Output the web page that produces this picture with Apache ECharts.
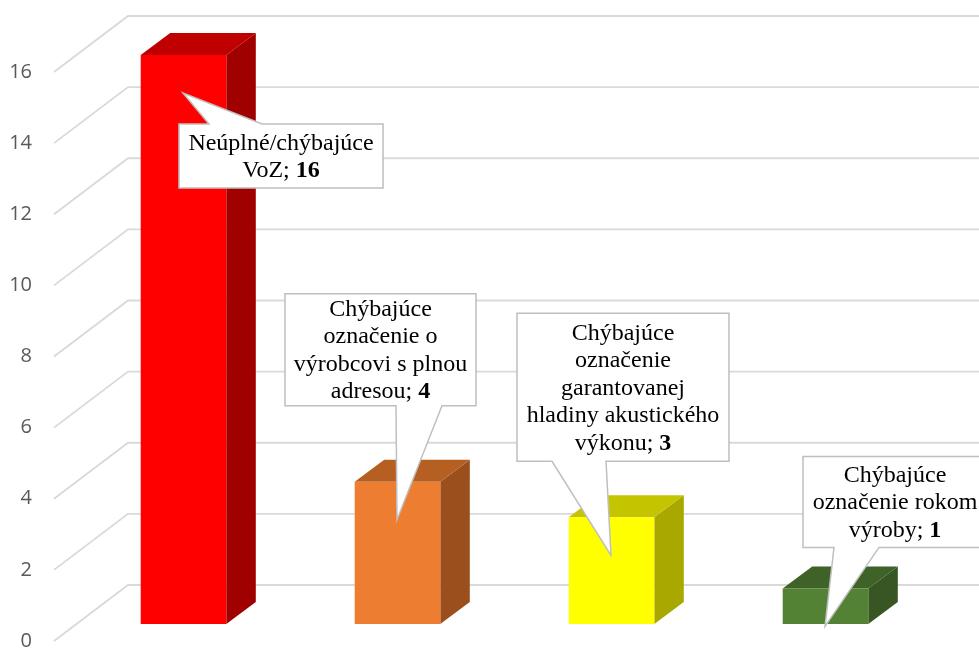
<!DOCTYPE html>
<html><head><meta charset="utf-8">
<script src="https://cdn.jsdelivr.net/npm/echarts@6/dist/echarts.min.js"></script>
<style>html,body{margin:0;padding:0;background:#fff}#c{width:979px;height:651px}</style>
</head><body><div id="c"></div>
<script>
// ---- data ----
const categories = ['Neúplné/chýbajúce VoZ', 'Chýbajúce označenie o výrobcovi s plnou adresou', 'Chýbajúce označenie garantovanej hladiny akustického výkonu', 'Chýbajúce označenie rokom výroby'];
const values = [16, 4, 3, 1];
const labelLines = [
  ['Neúplné/chýbajúce', 'VoZ'],
  ['Chýbajúce', 'označenie o', 'výrobcovi s plnou', 'adresou'],
  ['Chýbajúce', 'označenie', 'garantovanej', 'hladiny akustického', 'výkonu'],
  ['Chýbajúce', 'označenie rokom', 'výroby']
];
const yTicks = [0, 2, 4, 6, 8, 10, 12, 14, 16];

// ---- styles ----
const frontColors = ['#FF0000', '#ED7D31', '#FFFF00', '#548235'];
const topColors = ['#C00000', '#B65F22', '#C4C400', '#3F6229'];
const sideColors = ['#A00000', '#9A4F1D', '#A8A800', '#375623'];
const DEPTH = [74, -56];       // full depth of the 3D box (front plane -> back wall)
const BAR_OFF = [22.5, -17];   // bar front face offset from front plane
const BAR_DEPTH = [29.5, -22]; // bar thickness
// callout layout: box offset relative to tip, size, wedge side and base
const callLayout = [
  {dx: -4, dy: 31, w: 204, h: 64, side: 'top', b0: 30, b1: 83},
  {dx: -112, dy: -226, w: 191, h: 112, side: 'bottom', b0: 111, b1: 157},
  {dx: -94, dy: -242, w: 212, h: 148, side: 'bottom', b0: 35, b1: 89},
  {dx: -22, dy: -170, w: 184, h: 91, side: 'bottom', b0: 31, b1: 76}
];

const chart = echarts.init(document.getElementById('c'), null, {renderer: 'canvas'});

function gridItem(params, api) {
  const v = api.value(0);
  const cs = params.coordSys;
  const y = api.coord([0, v])[1];
  const x = cs.x;
  return {
    type: 'polyline',
    shape: {points: [[x, y], [x + DEPTH[0], y + DEPTH[1]], [cs.x + cs.width + DEPTH[0] + 10, y + DEPTH[1]]]},
    style: {stroke: '#D9D9D9', lineWidth: 1.8, fill: null}
  };
}

function barItem(params, api) {
  const i = api.value(0), v = api.value(1);
  const c = api.coord([i, v]);
  const c0 = api.coord([i, 0]);
  const band = api.size([1, 0])[0];
  const w = band * 0.4;
  const x0 = c[0] - w / 2 + BAR_OFF[0], x1 = x0 + w;
  const yT = c[1] + BAR_OFF[1], yB = c0[1] + BAR_OFF[1];
  const dx = BAR_DEPTH[0], dy = BAR_DEPTH[1];
  return {
    type: 'group',
    children: [
      {type: 'polygon', shape: {points: [[x1, yT], [x1 + dx, yT + dy], [x1 + dx, yB + dy], [x1, yB]]}, style: {fill: sideColors[i]}},
      {type: 'polygon', shape: {points: [[x0, yT], [x1, yT], [x1 + dx, yT + dy], [x0 + dx, yT + dy]]}, style: {fill: topColors[i]}},
      {type: 'rect', shape: {x: x0, y: yT, width: w, height: yB - yT}, style: {fill: frontColors[i]}}
    ]
  };
}

function calloutItem(params, api) {
  const i = api.value(0), v = api.value(1);
  const c = api.coord([i, v]);
  const tip = [c[0] + BAR_OFF[0] - 0.5, c[1] + BAR_OFF[1] + 38];
  const L = callLayout[i];
  const bx = tip[0] + L.dx, by = tip[1] + L.dy, bw = L.w, bh = L.h;
  let pts;
  if (L.side === 'top') {
    pts = [[bx, by], [bx + L.b0, by], tip, [bx + L.b1, by], [bx + bw, by], [bx + bw, by + bh], [bx, by + bh]];
  } else {
    pts = [[bx, by], [bx + bw, by], [bx + bw, by + bh], [bx + L.b1, by + bh], tip, [bx + L.b0, by + bh], [bx, by + bh]];
  }
  const lines = labelLines[i].slice();
  const last = lines.pop();
  const txt = lines.map(s => '{n|' + s + '}').concat(['{n|' + last + '; }{b|' + values[i] + '}']).join('\n');
  return {
    type: 'group',
    children: [
      {type: 'polygon', shape: {points: pts}, style: {fill: '#FFFFFF', stroke: '#BFBFBF', lineWidth: 1.5}},
      {type: 'text', x: bx + bw / 2, y: by + bh / 2 + 1, style: {
        text: txt, align: 'center', verticalAlign: 'middle',
        rich: {
          n: {fontFamily: 'Liberation Serif', fontSize: 24, lineHeight: 27.5, color: '#000'},
          b: {fontFamily: 'Liberation Serif', fontSize: 24, lineHeight: 27.5, color: '#000', fontWeight: 'bold'}
        }
      }}
    ]
  };
}

chart.setOption({
  animation: false,
  grid: {left: 54, right: 69, top: 72, bottom: 10},
  xAxis: {type: 'category', data: categories, show: false},
  yAxis: {
    type: 'value', min: 0, max: 16, interval: 2,
    axisLine: {show: false}, axisTick: {show: false}, splitLine: {show: false},
    axisLabel: {color: '#595959', fontFamily: 'Open Sans', fontSize: 20, margin: 22}
  },
  series: [
    {type: 'custom', renderItem: gridItem, data: yTicks.map(t => [t]), clip: false, z: 1, silent: true},
    {type: 'custom', renderItem: barItem, data: values.map((v, i) => [i, v]), clip: false, z: 2, silent: true},
    {type: 'custom', renderItem: calloutItem, data: values.map((v, i) => [i, v]), clip: false, z: 3, silent: true}
  ]
});
</script></body></html>
